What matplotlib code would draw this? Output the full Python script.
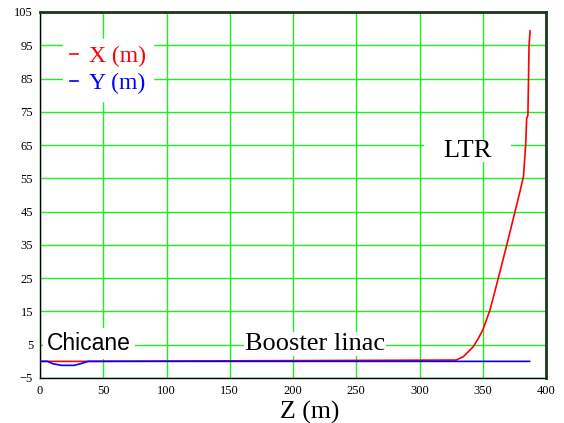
import matplotlib
matplotlib.use("Agg")
import matplotlib.pyplot as plt

# beam trajectory (z along the machine, m)
z_x = [0, 6, 38, 329, 334.6, 342.5, 346.5, 350, 355.7, 362.3, 369, 375.5,
       379.4, 382.2, 384, 384.7, 385.7, 386.6, 387.4]
x_pos = [0, 0, 0, 0.4, 1.4, 4.4, 6.9, 9.4, 15.4, 25, 35, 45,
         51, 55.6, 65.6, 73, 74, 94.8, 99.3]

z_y = [0, 6, 10, 17, 27, 33, 38, 387]
y_pos = [0, 0, -0.7, -1.2, -1.2, -0.6, 0, 0]

xticks = list(range(0, 401, 50))
yticks = list(range(-5, 106, 10))

serif = "Liberation Serif"
sans = "Liberation Sans"

fig = plt.figure(figsize=(5.64, 4.23), dpi=100)
ax = fig.add_axes([40 / 564, 1 - 378 / 423, 506 / 564, 366 / 423])

lx, = ax.plot(z_x, x_pos, color="#ff0000", lw=1.2, label="X (m)", zorder=3)
ly, = ax.plot(z_y, y_pos, color="#0000ff", lw=1.2, label="Y (m)", zorder=3)

ax.set_xlim(0, 400)
ax.set_ylim(-5, 105)
ax.set_xticks(xticks)
ax.set_yticks(yticks)
ax.tick_params(length=0, labelsize=9, pad=5)
for lab in ax.get_xticklabels() + ax.get_yticklabels():
    lab.set_family(serif)
ax.grid(True, color="#22ee22", lw=1.0)
ax.set_axisbelow(True)

for s in ["left", "bottom"]:
    ax.spines[s].set_color("black")
    ax.spines[s].set_linewidth(1.0)
for s in ["top", "right"]:
    ax.spines[s].set_color("#1e361e")
    ax.spines[s].set_linewidth(2.0)

box = dict(facecolor="white", edgecolor="none", pad=1)
ax.text(5.3, 3.4, "Chicane", family=sans, fontsize=16.5, ha="left",
        va="baseline", bbox=dict(facecolor="white", edgecolor="none", pad=3), zorder=2)
ax.text(162, 3.4, "Booster linac", family=serif, fontsize=19, ha="left",
        va="baseline", bbox=box, zorder=2)
ax.text(338, 61.3, "   LTR   ", family=serif, fontsize=19, ha="center",
        va="baseline", bbox=dict(facecolor="white", edgecolor="none", pad=0), zorder=2)

leg = ax.legend(handles=[lx, ly], loc="upper left", bbox_to_anchor=(0.045, 0.927),
                borderaxespad=0, frameon=True, fancybox=False, framealpha=1,
                edgecolor="white", handlelength=0.35, handletextpad=0.45,
                labelspacing=0.21, borderpad=0.3, labelcolor="linecolor",
                prop={"family": serif, "size": 17})

fig.text(310 / 564, 1 - 419 / 423, "Z (m)", family=serif, fontsize=18.5,
         ha="center", va="baseline")

fig.savefig("out.png", dpi=100)
